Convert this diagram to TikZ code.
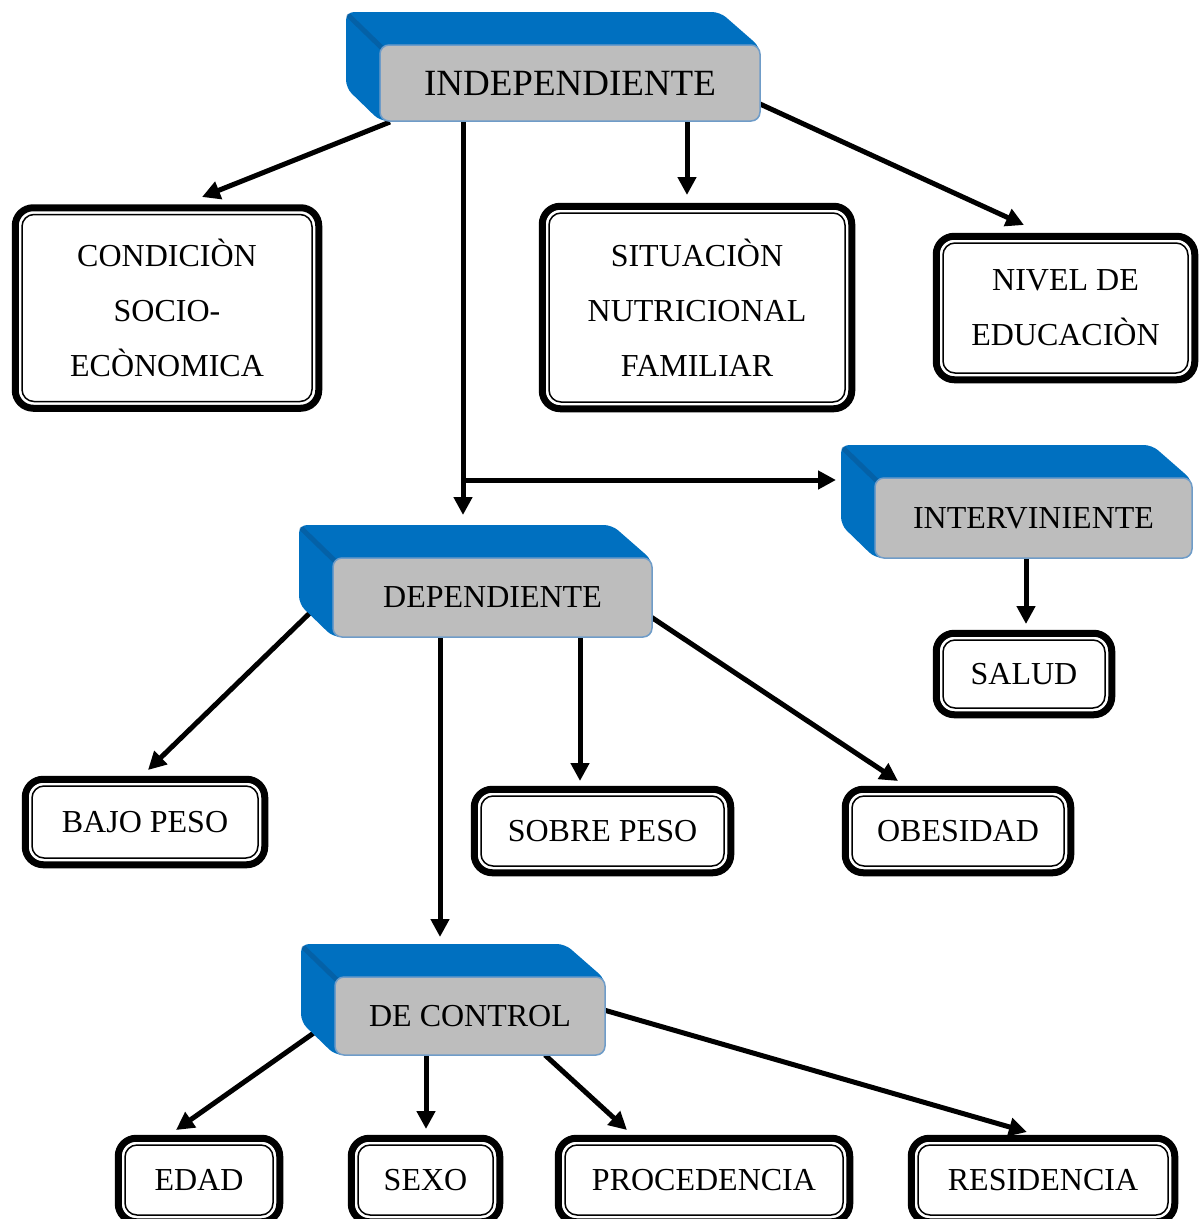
\documentclass[tikz,border=0pt]{standalone}
\usepackage{fontspec}
\setmainfont{Liberation Serif}
\usetikzlibrary{arrows.meta}
\pgfdeclarelayer{bg}\pgfdeclarelayer{mid}\pgfsetlayers{bg,mid,main}
\definecolor{boxblue}{HTML}{0070C0}
\definecolor{facegray}{HTML}{BDBDBD}
\definecolor{faceedge}{HTML}{6F9CC8}
\definecolor{bevelblue}{HTML}{0A4F8A}
\tikzset{
  face/.style={draw=faceedge, line width=1.5pt, fill=facegray, rounded corners=9pt, inner sep=0pt, outer sep=0pt, font=\fontsize{32}{38}\selectfont},
  vbox/.style={draw, line width=1.5pt, fill=white, rounded corners=12pt, inner sep=0pt, outer sep=0pt, align=center, font=\fontsize{32}{55}\selectfont},
  arr/.style={line width=5pt, -{Triangle[length=18pt,width=18pt]}},
  outerframe/.style={line width=7pt, rounded corners=18pt},
}
\newcommand\myextrude[1]{%
  \begin{pgfonlayer}{mid}
    \fill[boxblue, rounded corners=8pt] ([shift={(-34,-33)}]#1.north west) -- ([shift={(-40,-33)}]#1.north east) -- ([shift={(0,2)}]#1.north east) -- (#1.south east) -- (#1.south west) -- ([shift={(-34,-33)}]#1.south west) -- cycle;
    \draw[bevelblue, line width=5pt, opacity=.45, line cap=round] ([shift={(-31,-29)}]#1.north west) -- ([shift={(2,3)}]#1.north west);
  \end{pgfonlayer}}
\newcommand\myframe[1]{%
  \draw[outerframe] ([shift={(-6.75,6.75)}]#1.south west) rectangle ([shift={(6.75,-6.75)}]#1.north east);}
\begin{document}
\begin{tikzpicture}[x=1pt,y=-1pt]
\useasboundingbox (0,0) rectangle (1199,1219);
% 3D header boxes
\node[face, minimum width=380pt, minimum height=76pt, font=\fontsize{37}{42}\selectfont] (indep) at (570,83) {INDEPENDIENTE};
\node[face, minimum width=319pt, minimum height=79pt] (dep) at (492.5,597.5) {DEPENDIENTE};
\node[face, minimum width=317pt, minimum height=80pt] (interv) at (1033.5,518) {INTERVINIENTE};
\node[face, minimum width=270pt, minimum height=78pt] (dc) at (470,1016) {DE CONTROL};
\myextrude{indep}\myextrude{dep}\myextrude{interv}\myextrude{dc}
% framed boxes
\node[vbox, minimum width=290pt, minimum height=187pt] (cond) at (167,308) {CONDICIÒN\\SOCIO-\\ECÒNOMICA};
\node[vbox, minimum width=296pt, minimum height=189pt] (sit) at (697,307.5) {SITUACIÒN\\NUTRICIONAL\\FAMILIAR};
\node[vbox, minimum width=245pt, minimum height=130pt] (niv) at (1065.5,308) {NIVEL DE\\EDUCACIÒN};
\node[vbox, minimum width=162pt, minimum height=68pt] (salud) at (1024,674) {SALUD};
\node[vbox, minimum width=226pt, minimum height=72pt] (bajo) at (145,822) {BAJO PESO};
\node[vbox, minimum width=243pt, minimum height=70pt] (sobre) at (602.5,831) {SOBRE PESO};
\node[vbox, minimum width=212pt, minimum height=70pt] (obes) at (958,831) {OBESIDAD};
\node[vbox, minimum width=148pt, minimum height=70pt] (edad) at (199,1180) {EDAD};
\node[vbox, minimum width=135pt, minimum height=70pt] (sexo) at (425.5,1180) {SEXO};
\node[vbox, minimum width=278pt, minimum height=70pt] (proc) at (704,1180) {PROCEDENCIA};
\node[vbox, minimum width=250pt, minimum height=70pt] (res) at (1043,1180) {RESIDENCIA};
\foreach \n in {cond,sit,niv,salud,bajo,sobre,obes,edad,sexo,proc,res} {\myframe{\n}}
% connector end points
\coordinate (s1) at (390,122); \coordinate (t1) at (202,197);
\coordinate (s2) at (687,122); \coordinate (t2) at (687,195);
\coordinate (s3) at (760,104); \coordinate (t3) at (1024,225);
\coordinate (s4) at (463,122); \coordinate (t4) at (463,515);
\coordinate (br) at (463,480); \coordinate (t4b) at (836,480);
\coordinate (s5) at (1026,558); \coordinate (t5) at (1026,624);
\coordinate (s6) at (316,607); \coordinate (t6) at (148,770);
\coordinate (s7) at (580,637); \coordinate (t7) at (580,781);
\coordinate (s8) at (651,617); \coordinate (t8) at (898,781);
\coordinate (s9) at (440,637); \coordinate (t9) at (440,937);
\coordinate (s10) at (318,1030); \coordinate (t10) at (176,1130);
\coordinate (s11) at (426,1055); \coordinate (t11) at (426,1129);
\coordinate (s12) at (545,1055); \coordinate (t12) at (627,1130);
\coordinate (s13) at (604,1010); \coordinate (t13) at (1027,1132);
\begin{pgfonlayer}{bg}
\draw[arr] (s1) -- (t1);
\draw[arr] (s2) -- (t2);
\draw[arr] (s3) -- (t3);
\draw[arr] (s4) -- (t4);
\draw[arr] (br) -- (t4b);
\draw[arr] (s5) -- (t5);
\draw[arr] (s6) -- (t6);
\draw[arr] (s7) -- (t7);
\draw[arr] (s8) -- (t8);
\draw[arr] (s9) -- (t9);
\draw[arr] (s10) -- (t10);
\draw[arr] (s11) -- (t11);
\draw[arr] (s12) -- (t12);
\draw[arr] (s13) -- (t13);
\end{pgfonlayer}
\end{tikzpicture}
\end{document}
